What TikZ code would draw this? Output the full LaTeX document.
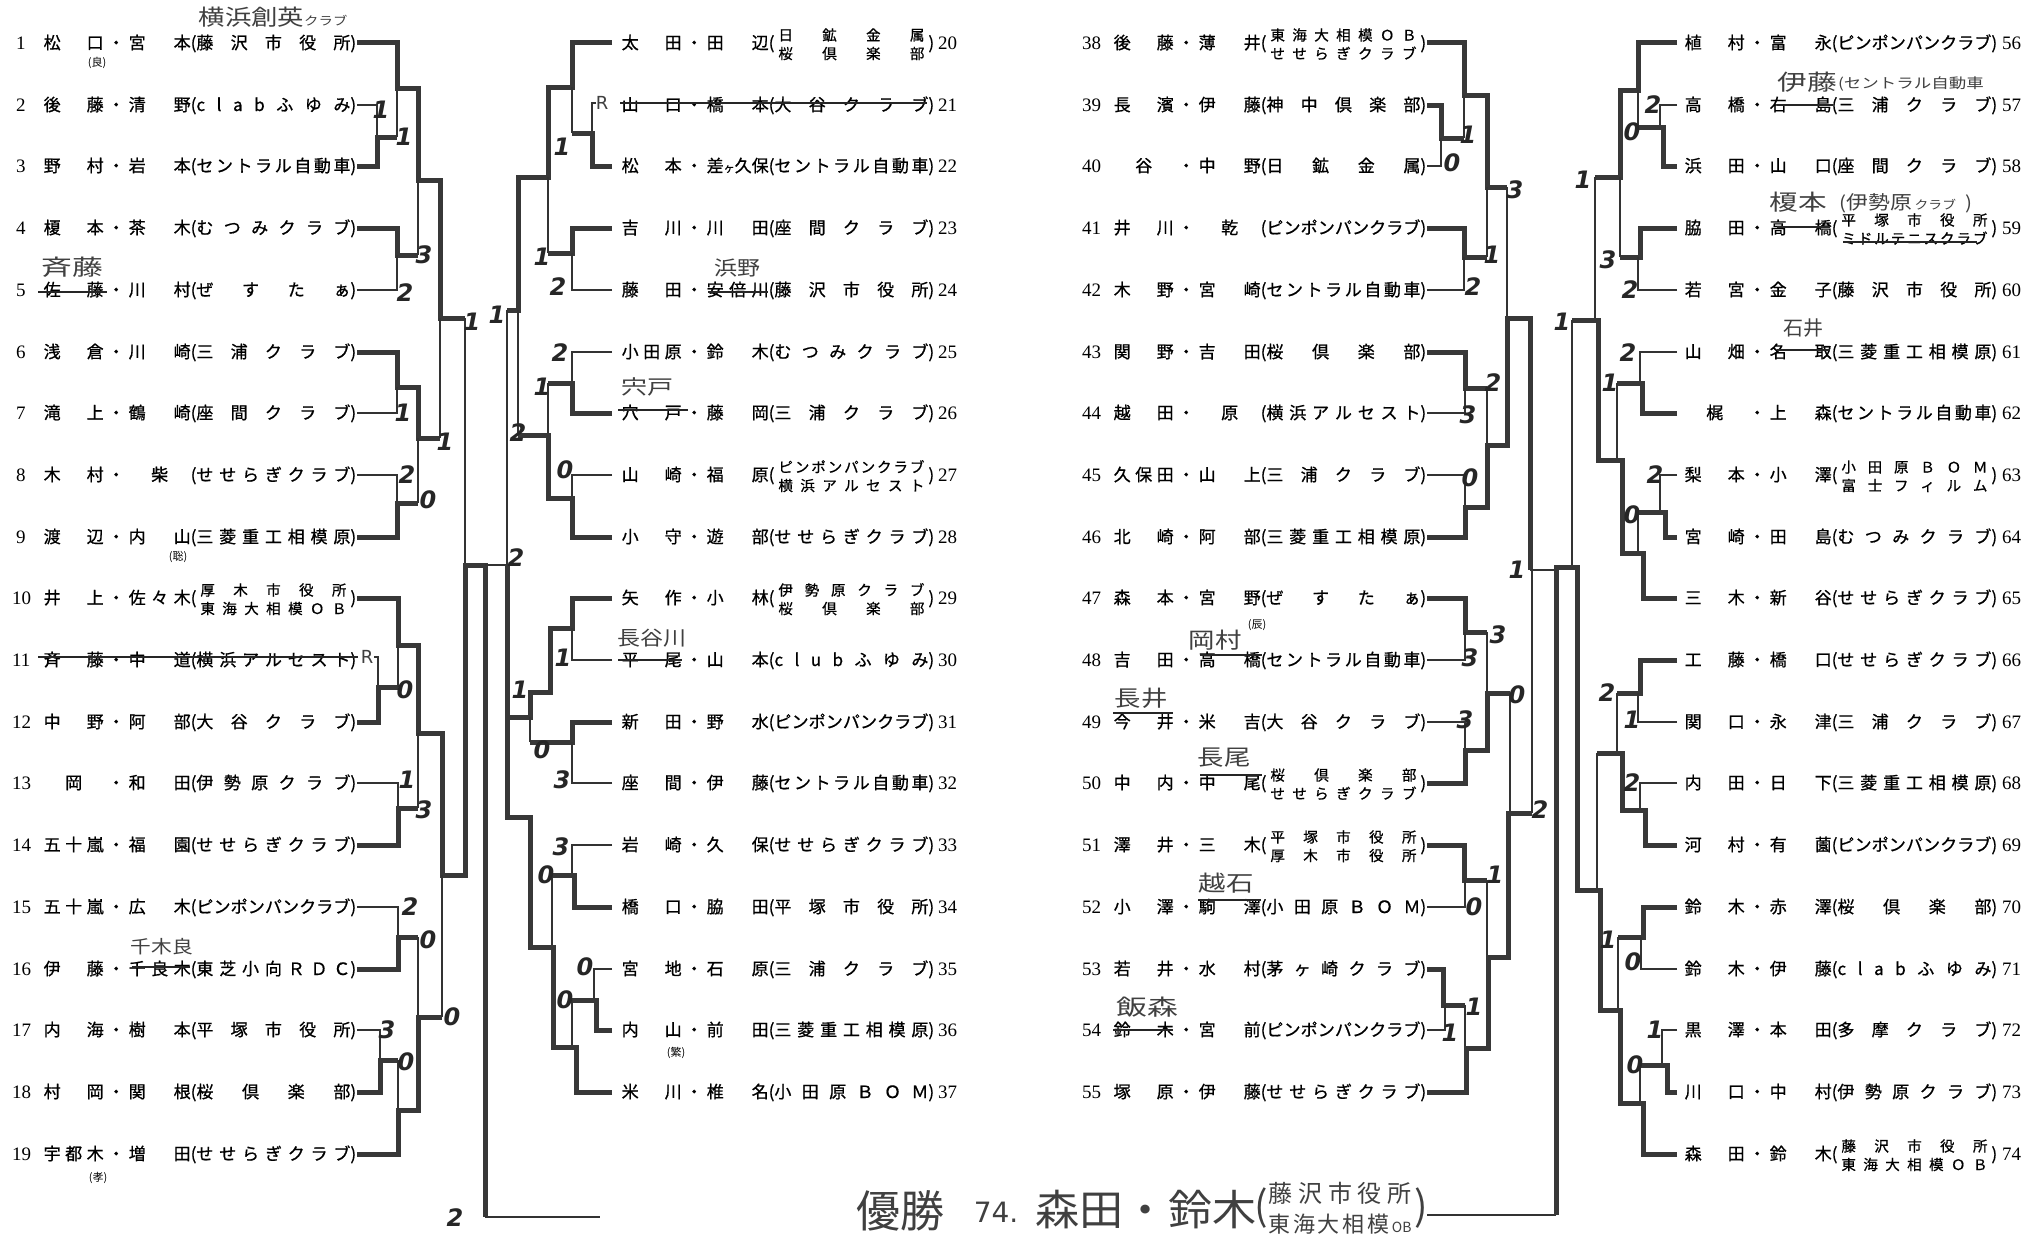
\documentclass[tikz,border=0pt]{standalone}
\usepackage{graphicx}
\usepackage{fontspec}
\setmainfont{Liberation Serif}
\newfontfamily\jp[FakeBold=0.8]{Noto Sans CJK JP}
\newfontfamily\jph{Noto Sans CJK JP}
\newfontfamily\hand{DejaVu Sans}
\def\spr#1{\sprA#1\sprEnd}
\def\sprA#1#2\sprEnd{#1\ifx\relax#2\relax\else\hfill\sprA#2\sprEnd\fi}
\newcommand\clubii[2]{\lower10pt\vbox{\fontsize{14.5}{18.5}\selectfont\hbox to 146pt{\spr{#1}}\hbox to 146pt{\spr{#2}}}}
\newcount\scn
\newcount\hwn
\tikzset{
 entry/.style={anchor=base west,inner sep=0pt,font=\jp\fontsize{17}{17}\selectfont},
 num/.style={anchor=base west,inner sep=0pt,font=\fontsize{19}{19}\selectfont},
 score/.style={inner sep=0pt,font=\hand\bfseries\itshape\fontsize{24}{24}\selectfont,text=black!85},
 hw/.style={inner sep=0pt,text=black!75},
 tiny/.style={inner sep=0pt,font=\jph\fontsize{11}{11}\selectfont},
 thn/.style={line width=1.4pt,draw=black!80},
 thk/.style={line width=5pt,draw=black!78},
 strk/.style={line width=1.1pt,draw=black!85},
}
\newcommand\ent[6]{\node[entry] (e#1) at ({#2},{#3+6}) {\makebox[60pt][s]{\hfil\spr{#4}\hfil}\makebox[25pt]{・}\makebox[62pt][s]{\hfil\spr{#5}\hfil}(\makebox[154pt][s]{\hfil#6\hfil})};}
\newcommand\nm[3]{\node[num] (n#1) at ({#2},{#3+6}) {#1};}
\newcommand\sco[3]{\global\advance\scn by 1 \edef\tmpn{s\the\scn}\node[score] (\tmpn) at (#1,#2) {#3};}
\newcommand\hwt[5]{\global\advance\hwn by 1 \edef\tmpn{h\the\hwn}\node[hw,font=\jph\fontsize{#3}{#3}\selectfont] (\tmpn) at (#1,#2) {\scalebox{#4}[1]{#5}};}
\begin{document}
\begin{tikzpicture}[x=1pt,y=-1pt]
\fill[white] (0,0) rectangle (2041,1239);
\useasboundingbox (0,0) rectangle (2041,1239);
% ---------------- entries: left quadrant
\ent{1}{43.5}{43}{松口}{宮本}{\spr{藤沢市役所}}
\ent{2}{43.5}{105}{後藤}{清野}{\spr{clabふゆみ}}
\ent{3}{43.5}{166}{野村}{岩本}{\spr{セントラル自動車}}
\ent{4}{43.5}{228}{榎本}{茶木}{\spr{むつみクラブ}}
\ent{5}{43.5}{290}{佐藤}{川村}{\spr{ぜすたぁ}}
\ent{6}{43.5}{352}{浅倉}{川崎}{\spr{三浦クラブ}}
\ent{7}{43.5}{413}{滝上}{鶴崎}{\spr{座間クラブ}}
\ent{8}{43.5}{475}{木村}{柴}{\spr{せせらぎクラブ}}
\ent{9}{43.5}{537}{渡辺}{内山}{\spr{三菱重工相模原}}
\ent{10}{43.5}{598}{井上}{佐々木}{\clubii{厚木市役所}{東海大相模ＯＢ}}
\ent{11}{43.5}{660}{斉藤}{中道}{\spr{横浜アルセスト}}
\ent{12}{43.5}{722}{中野}{阿部}{\spr{大谷クラブ}}
\ent{13}{43.5}{783}{岡}{和田}{\spr{伊勢原クラブ}}
\ent{14}{43.5}{845}{五十嵐}{福園}{\spr{せせらぎクラブ}}
\ent{15}{43.5}{907}{五十嵐}{広木}{\spr{ピンポンパンクラブ}}
\ent{16}{43.5}{969}{伊藤}{千良木}{\spr{東芝小向ＲＤＣ}}
\ent{17}{43.5}{1030}{内海}{樹本}{\spr{平塚市役所}}
\ent{18}{43.5}{1092}{村岡}{関根}{\spr{桜倶楽部}}
\ent{19}{43.5}{1154}{宇都木}{増田}{\spr{せせらぎクラブ}}
\nm{1}{16}{43}\nm{2}{16}{105}\nm{3}{16}{166}\nm{4}{16}{228}\nm{5}{16}{290}
\nm{6}{16}{352}\nm{7}{16}{413}\nm{8}{16}{475}\nm{9}{16}{537}\nm{10}{12}{598}
\nm{11}{12}{660}\nm{12}{12}{722}\nm{13}{12}{783}\nm{14}{12}{845}\nm{15}{12}{907}
\nm{16}{12}{969}\nm{17}{12}{1030}\nm{18}{12}{1092}\nm{19}{12}{1154}
% ---------------- entries: mid-left quadrant
\ent{20}{621.5}{43}{太田}{田辺}{\clubii{日鉱金属}{桜倶楽部}}
\ent{21}{621.5}{105}{山口}{橋本}{\spr{大谷クラブ}}
\ent{22}{621.5}{166}{松本}{{差\hfill{\fontsize{11}{11}\selectfont ヶ}\hfill 久\hfill 保}}{\spr{セントラル自動車}}
\ent{23}{621.5}{228}{吉川}{川田}{\spr{座間クラブ}}
\ent{24}{621.5}{290}{藤田}{安倍川}{\spr{藤沢市役所}}
\ent{25}{621.5}{352}{小田原}{鈴木}{\spr{むつみクラブ}}
\ent{26}{621.5}{413}{穴戸}{藤岡}{\spr{三浦クラブ}}
\ent{27}{621.5}{475}{山崎}{福原}{\clubii{ピンポンパンクラブ}{横浜アルセスト}}
\ent{28}{621.5}{537}{小守}{遊部}{\spr{せせらぎクラブ}}
\ent{29}{621.5}{598}{矢作}{小林}{\clubii{伊勢原クラブ}{桜倶楽部}}
\ent{30}{621.5}{660}{平尾}{山本}{\spr{clubふゆみ}}
\ent{31}{621.5}{722}{新田}{野水}{\spr{ピンポンパンクラブ}}
\ent{32}{621.5}{783}{座間}{伊藤}{\spr{セントラル自動車}}
\ent{33}{621.5}{845}{岩崎}{久保}{\spr{せせらぎクラブ}}
\ent{34}{621.5}{907}{橋口}{脇田}{\spr{平塚市役所}}
\ent{35}{621.5}{969}{宮地}{石原}{\spr{三浦クラブ}}
\ent{36}{621.5}{1030}{内山}{前田}{\spr{三菱重工相模原}}
\ent{37}{621.5}{1092}{米川}{椎名}{\spr{小田原ＢＯＭ}}
\nm{20}{938}{43}\nm{21}{938}{105}\nm{22}{938}{166}\nm{23}{938}{228}\nm{24}{938}{290}
\nm{25}{938}{352}\nm{26}{938}{413}\nm{27}{938}{475}\nm{28}{938}{537}\nm{29}{938}{598}
\nm{30}{938}{660}\nm{31}{938}{722}\nm{32}{938}{783}\nm{33}{938}{845}\nm{34}{938}{907}
\nm{35}{938}{969}\nm{36}{938}{1030}\nm{37}{938}{1092}
% ---------------- entries: right quadrant
\ent{38}{1113.5}{43}{後藤}{薄井}{\clubii{東海大相模ＯＢ}{せせらぎクラブ}}
\ent{39}{1113.5}{105}{長濱}{伊藤}{\spr{神中倶楽部}}
\ent{40}{1113.5}{166}{谷}{中野}{\spr{日鉱金属}}
\ent{41}{1113.5}{228}{井川}{乾}{\spr{ピンポンパンクラブ}}
\ent{42}{1113.5}{290}{木野}{宮崎}{\spr{セントラル自動車}}
\ent{43}{1113.5}{352}{関野}{吉田}{\spr{桜倶楽部}}
\ent{44}{1113.5}{413}{越田}{原}{\spr{横浜アルセスト}}
\ent{45}{1113.5}{475}{久保田}{山上}{\spr{三浦クラブ}}
\ent{46}{1113.5}{537}{北崎}{阿部}{\spr{三菱重工相模原}}
\ent{47}{1113.5}{598}{森本}{宮野}{\spr{ぜすたぁ}}
\ent{48}{1113.5}{660}{吉田}{高橋}{\spr{セントラル自動車}}
\ent{49}{1113.5}{722}{今井}{米吉}{\spr{大谷クラブ}}
\ent{50}{1113.5}{783}{中内}{中尾}{\clubii{桜倶楽部}{せせらぎクラブ}}
\ent{51}{1113.5}{845}{澤井}{三木}{\clubii{平塚市役所}{厚木市役所}}
\ent{52}{1113.5}{907}{小澤}{駒澤}{\spr{小田原ＢＯＭ}}
\ent{53}{1113.5}{969}{若井}{水村}{\spr{茅ヶ崎クラブ}}
\ent{54}{1113.5}{1030}{鈴木}{宮前}{\spr{ピンポンパンクラブ}}
\ent{55}{1113.5}{1092}{塚原}{伊藤}{\spr{せせらぎクラブ}}
\nm{38}{1082}{43}\nm{39}{1082}{105}\nm{40}{1082}{166}\nm{41}{1082}{228}\nm{42}{1082}{290}
\nm{43}{1082}{352}\nm{44}{1082}{413}\nm{45}{1082}{475}\nm{46}{1082}{537}\nm{47}{1082}{598}
\nm{48}{1082}{660}\nm{49}{1082}{722}\nm{50}{1082}{783}\nm{51}{1082}{845}\nm{52}{1082}{907}
\nm{53}{1082}{969}\nm{54}{1082}{1030}\nm{55}{1082}{1092}
% ---------------- entries: far-right quadrant
\ent{56}{1684.5}{43}{植村}{富永}{\spr{ピンポンパンクラブ}}
\ent{57}{1684.5}{105}{高橋}{右島}{\spr{三浦クラブ}}
\ent{58}{1684.5}{166}{浜田}{山口}{\spr{座間クラブ}}
\ent{59}{1684.5}{228}{脇田}{高橋}{\clubii{平塚市役所}{ミドルテニスクラブ}}
\ent{60}{1684.5}{290}{若宮}{金子}{\spr{藤沢市役所}}
\ent{61}{1684.5}{352}{山畑}{名取}{\spr{三菱重工相模原}}
\ent{62}{1684.5}{413}{梶}{上森}{\spr{セントラル自動車}}
\ent{63}{1684.5}{475}{梨本}{小澤}{\clubii{小田原ＢＯＭ}{富士フィルム}}
\ent{64}{1684.5}{537}{宮崎}{田島}{\spr{むつみクラブ}}
\ent{65}{1684.5}{598}{三木}{新谷}{\spr{せせらぎクラブ}}
\ent{66}{1684.5}{660}{工藤}{橋口}{\spr{せせらぎクラブ}}
\ent{67}{1684.5}{722}{関口}{永津}{\spr{三浦クラブ}}
\ent{68}{1684.5}{783}{内田}{日下}{\spr{三菱重工相模原}}
\ent{69}{1684.5}{845}{河村}{有薗}{\spr{ピンポンパンクラブ}}
\ent{70}{1684.5}{907}{鈴木}{赤澤}{\spr{桜倶楽部}}
\ent{71}{1684.5}{969}{鈴木}{伊藤}{\spr{clabふゆみ}}
\ent{72}{1684.5}{1030}{黒澤}{本田}{\spr{多摩クラブ}}
\ent{73}{1684.5}{1092}{川口}{中村}{\spr{伊勢原クラブ}}
\ent{74}{1684.5}{1154}{森田}{鈴木}{\clubii{藤沢市役所}{東海大相模ＯＢ}}
\nm{56}{2002}{43}\nm{57}{2002}{105}\nm{58}{2002}{166}\nm{59}{2002}{228}\nm{60}{2002}{290}
\nm{61}{2002}{352}\nm{62}{2002}{413}\nm{63}{2002}{475}\nm{64}{2002}{537}\nm{65}{2002}{598}
\nm{66}{2002}{660}\nm{67}{2002}{722}\nm{68}{2002}{783}\nm{69}{2002}{845}\nm{70}{2002}{907}
\nm{71}{2002}{969}\nm{72}{2002}{1030}\nm{73}{2002}{1092}\nm{74}{2002}{1154}
% ---------------- small printed notes
\node[tiny] (t1) at (97,63) {(良)};
\node[tiny] (t2) at (178,557) {(聡)};
\node[tiny] (t3) at (98,1178) {(孝)};
\node[tiny] (t4) at (676,1053) {(繁)};
\node[tiny] (t5) at (1257,625) {(辰)};
% ---------------- strike-throughs
\draw[strk] (38,292) -- (107,292);
\draw[strk] (38,657) -- (358,657);
\draw[strk] (132,967) -- (190,967);
\draw[strk] (620,103) -- (927,103);
\draw[strk] (708,292) -- (768,292);
\draw[strk] (618,410) -- (688,410);
\draw[strk] (618,660) -- (682,660);
\draw[strk] (1200,655) -- (1262,655);
\draw[strk] (1113,713) -- (1173,713);
\draw[strk] (1200,775) -- (1262,775);
\draw[strk] (1198,900) -- (1261,900);
\draw[strk] (1113,1030) -- (1173,1030);
\draw[strk] (1777,105) -- (1833,105);
\draw[strk] (1777,227) -- (1830,227);
\draw[strk] (1843,242) -- (1977,242);
\draw[strk] (1777,350) -- (1830,350);
% ---------------- handwritten corrections
\hwt{273}{17}{22}{1.2}{横浜創英{\fontsize{12}{12}\selectfont クラブ}}
\hwt{72}{267}{22}{1.4}{斉藤}
\hwt{162}{947}{18}{1.15}{千木良}
\hwt{737}{268}{20}{1.15}{浜野}
\hwt{647}{387}{20}{1.3}{宍戸}
\hwt{652}{638}{20}{1.15}{長谷川}
\hwt{1215}{640}{22}{1.2}{岡村}
\hwt{1141}{698}{22}{1.2}{長井}
\hwt{1224}{758}{22}{1.2}{長尾}
\hwt{1226}{883}{22}{1.25}{越石}
\hwt{1147}{1007}{22}{1.4}{飯森}
\hwt{1807}{82}{22}{1.35}{伊藤}
\hwt{1911}{84}{14}{1.25}{(セントラル自動車}
\hwt{1798}{202}{22}{1.3}{榎本}
\hwt{1906}{203}{18}{1.15}{({\fontsize{19}{19}\selectfont 伊勢原}{\fontsize{12}{12}\selectfont\,クラブ}\hspace{8pt})}
\hwt{1803}{328}{20}{1.0}{石井}
\node[hw,font=\hand\fontsize{18}{18}\selectfont] (r1) at (367,657) {R};
\node[hw,font=\hand\fontsize{18}{18}\selectfont] (r2) at (602,103) {R};
% ---------------- bracket: left quadrant
\draw[thn] (357,105) -| (377,137);
\draw[thk] (357,166) -| (377,137) -- (397,137);
\draw[thn] (397,137) -- (397,88);
\draw[thk] (357,43) -| (397,88) -- (418,88) -- (418,180) -- (440,180) -- (440,318) -- (465,318);
\draw[thn] (465,318) -- (465,565);
\draw[thk] (357,228) -| (397,255) -- (418,255);
\draw[thn] (357,290) -| (397,255);
\draw[thn] (418,255) -- (418,180);
\draw[thk] (357,352) -| (397,387) -- (418,387) -- (418,438) -- (440,438);
\draw[thn] (357,413) -| (397,387);
\draw[thn] (440,438) -- (440,318);
\draw[thn] (357,475) -| (397,503);
\draw[thk] (357,537) -| (397,503) -- (418,503);
\draw[thn] (418,503) -- (418,438);
\draw[thk] (357,598) -| (398,645) -- (418,645) -- (418,733) -- (442,733) -- (442,875) -- (465,875) -- (465,565) -- (485,565) -- (485,1217);
\draw[thn] (374,657) -| (378,687);
\draw[thk] (357,722) -| (378,687) -- (398,687);
\draw[thn] (398,687) -- (398,645);
\draw[thn] (357,783) -| (398,808);
\draw[thk] (357,845) -| (398,808) -- (418,808);
\draw[thn] (418,808) -- (418,733);
\draw[thn] (357,907) -| (398,937);
\draw[thk] (357,969) -| (398,937) -- (418,937);
\draw[thn] (418,937) -- (418,1017);
\draw[thn] (357,1030) -| (380,1060);
\draw[thk] (357,1092) -| (380,1060) -- (398,1060);
\draw[thn] (398,1060) -- (398,1110);
\draw[thk] (357,1154) -| (398,1110) -- (418,1110) -- (418,1017) -- (442,1017);
\draw[thn] (442,1017) -- (442,875);
\draw[thn] (485,1217) -- (600,1217);
% ---------------- bracket: mid-left quadrant
\draw[thk] (612,43) -| (572,87) -- (548,87) -- (548,177) -- (518,177) -- (518,310) -- (507,310);
\draw[thn] (507,310) -- (507,565) -- (485,565);
\draw[thn] (596,103) -| (592,133);
\draw[thk] (612,166) -| (592,133) -- (572,133);
\draw[thn] (572,133) -- (572,87);
\draw[thk] (612,228) -| (572,253) -- (548,253);
\draw[thn] (612,290) -| (572,253);
\draw[thn] (548,253) -- (548,177);
\draw[thn] (612,352) -| (572,383);
\draw[thk] (612,413) -| (572,383) -- (548,383);
\draw[thn] (548,383) -- (548,435);
\draw[thn] (612,475) -| (572,498);
\draw[thk] (612,537) -| (572,498) -- (548,498) -- (548,435) -- (518,435);
\draw[thn] (518,435) -- (518,310);
\draw[thk] (612,598) -| (572,628) -- (550,628) -- (550,692) -- (530,692) -- (530,717) -- (507,717);
\draw[thn] (612,660) -| (572,628);
\draw[thk] (612,722) -| (572,742) -- (530,742);
\draw[thn] (612,783) -| (572,742);
\draw[thn] (530,742) -- (530,717);
\draw[thn] (612,845) -| (572,875);
\draw[thk] (612,907) -| (574,875) -- (552,875);
\draw[thn] (552,875) -- (552,947);
\draw[thn] (612,969) -| (594,1000);
\draw[thk] (612,1030) -| (596,1000) -- (572,1000);
\draw[thn] (572,1000) -- (572,1047);
\draw[thk] (612,1092) -| (576,1047) -- (553,1047) -- (553,947) -- (530,947) -- (530,817) -- (507,817) -- (507,565);
% ---------------- bracket: right quadrant
\draw[thk] (1427,43) -| (1464,95) -- (1487,95) -- (1487,187) -- (1507,187);
\draw[thn] (1507,187) -- (1507,318);
\draw[thk] (1427,105) -| (1441,138) -- (1464,138);
\draw[thn] (1427,166) -| (1441,138);
\draw[thn] (1464,138) -- (1464,95);
\draw[thk] (1427,228) -| (1464,257) -- (1487,257);
\draw[thn] (1427,290) -| (1464,257);
\draw[thn] (1487,257) -- (1487,187);
\draw[thk] (1427,352) -| (1465,388) -- (1487,388);
\draw[thn] (1427,413) -| (1465,388);
\draw[thn] (1487,388) -- (1487,445);
\draw[thn] (1427,475) -| (1465,507);
\draw[thk] (1427,537) -| (1465,507) -- (1487,507) -- (1487,445) -- (1507,445) -- (1507,318) -- (1530,318) -- (1530,570);
\draw[thn] (1530,570) -- (1556,570);
\draw[thk] (1427,598) -| (1465,632) -- (1487,632);
\draw[thn] (1427,660) -| (1465,632);
\draw[thn] (1487,632) -- (1487,693);
\draw[thn] (1427,722) -| (1465,750);
\draw[thk] (1427,783) -| (1465,750) -- (1487,750) -- (1487,693) -- (1510,693);
\draw[thn] (1510,693) -- (1510,813);
\draw[thk] (1427,845) -| (1464,880) -- (1487,880);
\draw[thn] (1427,907) -| (1465,880);
\draw[thn] (1487,880) -- (1487,957);
\draw[thk] (1427,969) -| (1443,1005) -- (1465,1005);
\draw[thn] (1427,1030) -| (1445,1005);
\draw[thn] (1465,1005) -- (1465,1048);
\draw[thk] (1427,1092) -| (1466,1048) -- (1488,1048) -- (1488,957) -- (1508,957) -- (1508,813) -- (1532,813);
\draw[thn] (1532,813) -- (1532,570);
\draw[thn] (1556,1215) -- (1427,1215);
% ---------------- bracket: far-right quadrant
\draw[thk] (1677,43) -| (1638,90) -- (1620,90) -- (1620,177) -- (1595,177);
\draw[thn] (1595,177) -- (1595,320);
\draw[thn] (1677,105) -| (1660,127);
\draw[thk] (1677,166) -| (1663,127) -- (1638,127);
\draw[thn] (1638,127) -- (1638,90);
\draw[thk] (1677,228) -| (1640,257) -- (1620,257);
\draw[thn] (1677,290) -| (1638,257);
\draw[thn] (1620,257) -- (1620,177);
\draw[thn] (1677,352) -| (1640,383);
\draw[thk] (1677,413) -| (1642,383) -- (1617,383);
\draw[thn] (1617,383) -- (1617,460);
\draw[thn] (1677,475) -| (1660,512);
\draw[thk] (1677,537) -| (1665,512) -- (1638,512);
\draw[thn] (1638,512) -- (1638,553);
\draw[thk] (1677,598) -| (1643,553) -- (1622,553) -- (1622,460) -- (1598,460) -- (1598,320) -- (1572,320);
\draw[thn] (1572,320) -- (1572,567);
\draw[thk] (1677,660) -| (1640,693) -- (1617,693);
\draw[thn] (1677,722) -| (1638,693);
\draw[thn] (1617,693) -- (1617,753);
\draw[thn] (1677,783) -| (1640,810);
\draw[thk] (1677,845) -| (1645,810) -- (1622,810) -- (1622,753) -- (1597,753);
\draw[thn] (1597,753) -- (1597,890);
\draw[thk] (1677,907) -| (1643,937) -- (1618,937);
\draw[thn] (1677,969) -| (1641,937);
\draw[thn] (1618,937) -- (1618,1010);
\draw[thn] (1677,1030) -| (1662,1065);
\draw[thk] (1677,1092) -| (1667,1065) -- (1640,1065);
\draw[thn] (1640,1065) -- (1640,1103);
\draw[thk] (1677,1154) -| (1643,1103) -- (1620,1103) -- (1620,1010) -- (1600,1010) -- (1600,890) -- (1577,890) -- (1577,567) -- (1556,567) -- (1556,1215);
% ---------------- scores
\sco{381}{110}{1}\sco{404}{137}{1}\sco{424}{255}{3}\sco{405}{293}{2}\sco{472}{322}{1}\sco{497}{315}{1}
\sco{403}{413}{1}\sco{445}{442}{1}\sco{407}{475}{2}\sco{428}{500}{0}
\sco{405}{690}{0}\sco{407}{780}{1}\sco{424}{810}{3}\sco{410}{907}{2}\sco{428}{940}{0}
\sco{387}{1030}{3}\sco{406}{1062}{0}\sco{452}{1017}{0}\sco{455}{1218}{2}
\sco{562}{147}{1}\sco{542}{257}{1}\sco{558}{287}{2}\sco{560}{353}{2}\sco{542}{387}{1}\sco{565}{470}{0}
\sco{518}{433}{2}\sco{516}{558}{2}\sco{520}{690}{1}\sco{563}{658}{1}\sco{542}{750}{0}\sco{562}{780}{3}
\sco{561}{847}{3}\sco{546}{875}{0}\sco{585}{967}{0}\sco{565}{1000}{0}
\sco{1468}{135}{1}\sco{1452}{163}{0}\sco{1515}{190}{3}\sco{1492}{255}{1}\sco{1473}{287}{2}
\sco{1493}{383}{2}\sco{1468}{415}{3}\sco{1470}{478}{0}\sco{1517}{570}{1}\sco{1498}{635}{3}
\sco{1470}{658}{3}\sco{1465}{720}{3}\sco{1517}{695}{0}\sco{1495}{875}{1}\sco{1474}{907}{0}
\sco{1474}{1007}{1}\sco{1450}{1033}{1}\sco{1540}{810}{2}
\sco{1653}{105}{2}\sco{1632}{132}{0}\sco{1583}{180}{1}\sco{1608}{260}{3}\sco{1630}{290}{2}
\sco{1562}{322}{1}\sco{1628}{353}{2}\sco{1610}{383}{1}\sco{1655}{475}{2}\sco{1632}{515}{0}
\sco{1607}{693}{2}\sco{1632}{720}{1}\sco{1632}{783}{2}\sco{1608}{940}{1}\sco{1633}{962}{0}
\sco{1655}{1030}{1}\sco{1635}{1065}{0}
% ---------------- winner line
\node[hw,font=\jph\fontsize{44}{44}\selectfont] (w1) at (900,1211) {優勝};
\node[hw,font=\hand\fontsize{28}{28}\selectfont] (w2) at (996,1212) {74.};
\node[hw,font=\jph\fontsize{42}{42}\selectfont] (w3) at (1146,1210) {\scalebox{1.05}[1]{森田・鈴木}};
\node[hw,font=\jph\fontsize{40}{40}\selectfont] (w4) at (1261,1208) {(};
\node[hw,font=\jph\fontsize{24}{24}\selectfont] (w5) at (1340,1193) {\makebox[143pt][s]{\spr{藤沢市役所}}};
\node[hw,font=\jph\fontsize{22}{22}\selectfont] (w6) at (1340,1224) {\makebox[143pt][s]{東\hfill 海\hfill 大\hfill 相\hfill 模\hfill{\fontsize{14}{14}\selectfont OB}}};
\node[hw,font=\jph\fontsize{40}{40}\selectfont] (w7) at (1421,1208) {)};
\end{tikzpicture}
\end{document}
